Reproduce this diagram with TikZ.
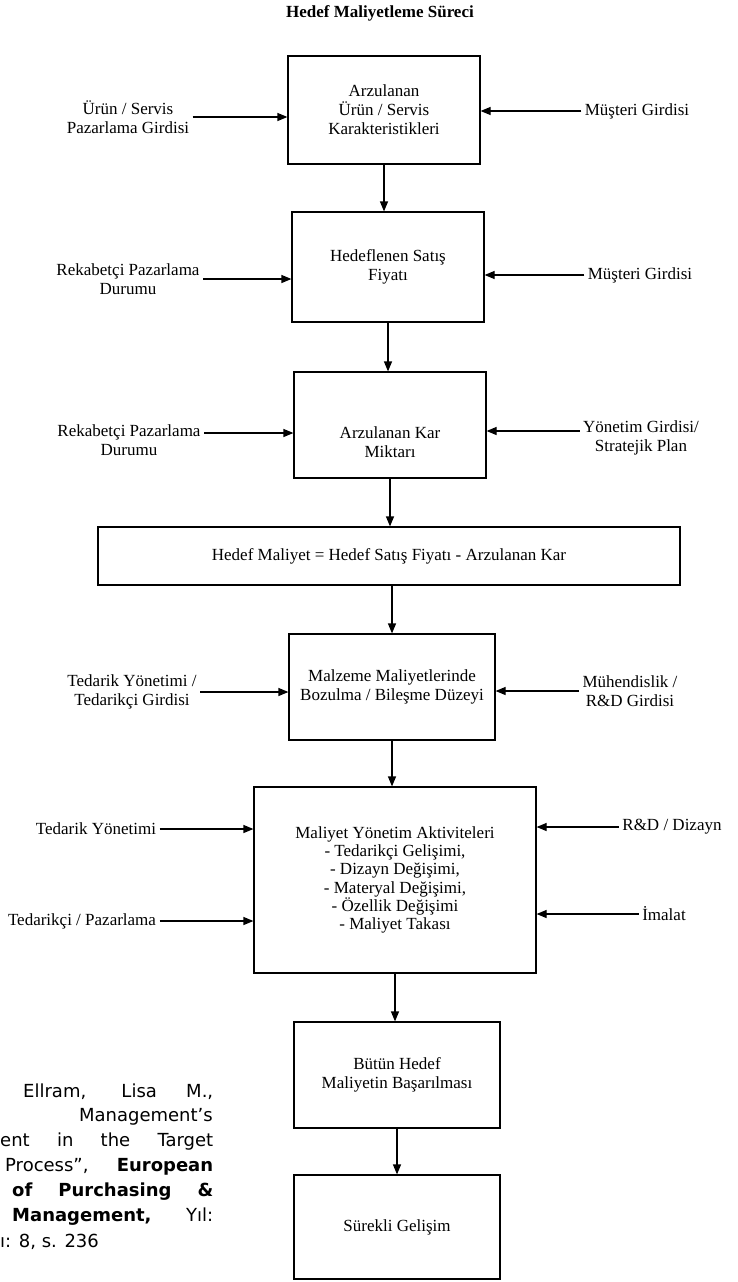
\documentclass[tikz,border=0pt]{standalone}
\usepackage{fontspec}
\setmainfont{Liberation Serif}
\newfontfamily\kaynakfont{DejaVu Sans}
\usepackage{tikz}
\usetikzlibrary{arrows.meta}

\begin{document}
\begin{tikzpicture}[
  x=1pt, y=-1pt,
  every node/.style={
    align=center,
    font=\fontsize{17}{19}\selectfont
  },
  kutu/.style={rectangle, draw, line width=1.2pt, inner sep=2pt},
  ok/.style={-{Triangle[length=10pt,width=8pt]}, line width=1.2pt},
  kaynak/.style={inner sep=0pt, font=\kaynakfont\fontsize{18}{20}\selectfont} % kaynak metni
]
\useasboundingbox (0,0) rectangle (737,1282);

\node[font=\bfseries\fontsize{17}{19}\selectfont] (baslik) at (380,13) {Hedef Maliyetleme Süreci};

% ana kutular
\node[kutu, minimum width=192pt, minimum height=108pt] (b1) at (384,110) {Arzulanan\\Ürün / Servis\\Karakteristikleri};
\node[kutu, minimum width=192pt, minimum height=110pt] (b2) at (388,267) {Hedeflenen Satış\\Fiyatı};
\node[kutu, minimum width=192pt, minimum height=106pt] (b3) at (390,425) {};
\node (b3y) at (390,442) {Arzulanan Kar\\Miktarı};
\node[kutu, minimum width=582pt, minimum height=58pt] (fb) at (389,556) {Hedef Maliyet = Hedef Satış Fiyatı - Arzulanan Kar};
\node[kutu, minimum width=206pt, minimum height=106pt] (b4) at (392,687) {Malzeme Maliyetlerinde\\Bozulma / Bileşme Düzeyi};
\node[kutu, minimum width=282pt, minimum height=186pt, font=\fontsize{17}{18.3}\selectfont] (b5) at (395,880)
  {Maliyet Yönetim Aktiviteleri\\- Tedarikçi Gelişimi,\\- Dizayn Değişimi,\\- Materyal Değişimi,\\- Özellik Değişimi\\- Maliyet Takası};
\node[kutu, minimum width=206pt, minimum height=106pt] (b6) at (397,1075) {Bütün Hedef\\Maliyetin Başarılması};
\node[kutu, minimum width=206pt, minimum height=104pt] (b7) at (397,1227) {Sürekli Gelişim};

% yan girdiler
\node (l1) at (128,117) {Ürün / Servis\\Pazarlama Girdisi};
\node (r1) at (637,111) {Müşteri Girdisi};
\node (l2) at (128,279) {Rekabetçi Pazarlama\\Durumu};
\node (r2) at (640,275) {Müşteri Girdisi};
\node (l3) at (129,440) {Rekabetçi Pazarlama\\Durumu};
\node (r3) at (641,438) {Yönetim Girdisi/\\Stratejik Plan};
\node (l4) at (132,692) {Tedarik Yönetimi /\\Tedarikçi Girdisi};
\node (r4) at (630,691) {Mühendislik /\\R\&D Girdisi};
\node (l5) at (96,829) {Tedarik Yönetimi};
\node (l6) at (82,921) {Tedarikçi / Pazarlama};
\node (r5) at (672,827) {R\&D / Dizayn};
\node (r6) at (664,914) {İmalat};

\coordinate (l3a) at ([yshift=7pt]l3.east);
\coordinate (r3a) at ([yshift=7pt]r3.west);

\draw[ok] (l1.east) -- (l1.east -| b1.west);
\draw[ok] (r1.west) -- (r1.west -| b1.east);
\draw[ok] (l2.east) -- (l2.east -| b2.west);
\draw[ok] (r2.west) -- (r2.west -| b2.east);
\draw[ok] (l3a) -- (l3a -| b3.west);
\draw[ok] (r3a) -- (r3a -| b3.east);
\draw[ok] (l4.east) -- (l4.east -| b4.west);
\draw[ok] (r4.west) -- (r4.west -| b4.east);
\draw[ok] (l5.east) -- (l5.east -| b5.west);
\draw[ok] (l6.east) -- (l6.east -| b5.west);
\draw[ok] (r5.west) -- (r5.west -| b5.east);
\draw[ok] (r6.west) -- (r6.west -| b5.east);

% akis
\draw[ok] (b1.south) -- (b1.south |- b2.north);
\draw[ok] (b2.south) -- (b2.south |- b3.north);
\draw[ok] (b3.south) -- (b3.south |- fb.north);
\draw[ok] (b4.north |- fb.south) -- (b4.north);
\draw[ok] (b4.south) -- (b4.south |- b5.north);
\draw[ok] (b5.south) -- (b5.south |- b6.north);
\draw[ok] (b6.south) -- (b6.south |- b7.north);

% kaynak
\node[kaynak, anchor=west] (k1) at (23,1092) {\makebox[190pt][s]{Ellram, Lisa M.,}};
\node[kaynak, anchor=east] (k2) at (213,1117) {Management’s};
\node[kaynak, anchor=west] (k3) at (0,1142) {\makebox[213pt][s]{ent in the Target}};
\node[kaynak, anchor=west] (k4) at (5,1167) {\makebox[208pt][s]{Process”, \textbf{European}}};
\node[kaynak, anchor=west] (k5) at (12,1192) {\makebox[201pt][s]{\textbf{of Purchasing \&}}};
\node[kaynak, anchor=west] (k6) at (12,1217) {\makebox[201pt][s]{\textbf{Management,} Yıl:}};
\node[kaynak, anchor=west] (k7) at (0,1242) {ı: 8, s. 236};
\end{tikzpicture}
\end{document}
